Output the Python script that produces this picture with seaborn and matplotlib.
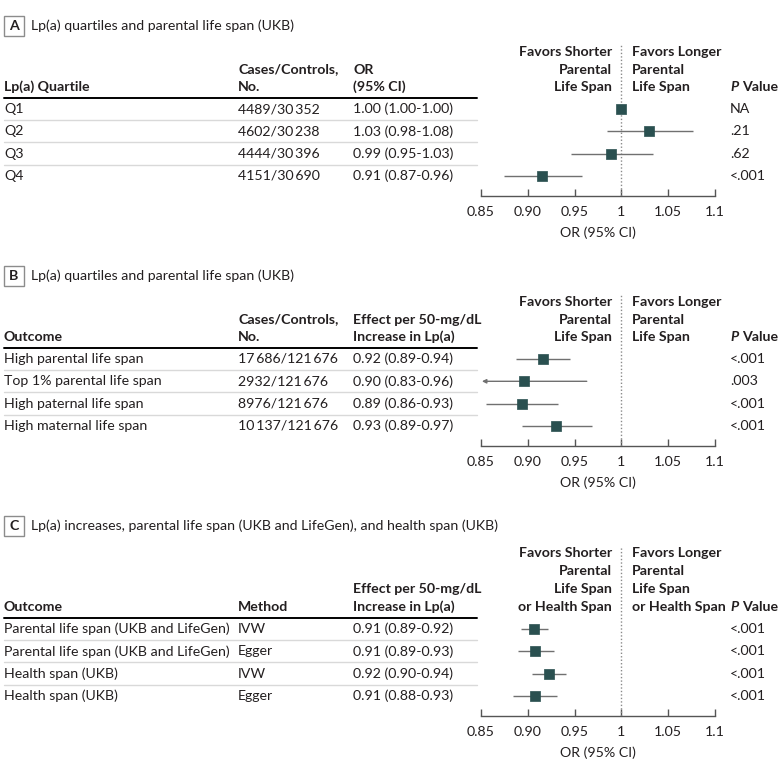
import numpy as np
import pandas as pd
import matplotlib.pyplot as plt
import seaborn as sns
from matplotlib.patches import Rectangle
from matplotlib.lines import Line2D

# ---- data -------------------------------------------------------------
a_labels = ["Q1", "Q2", "Q3", "Q4"]
a_cases = ["4489/30\u2009352", "4602/30\u2009238", "4444/30\u2009396", "4151/30\u2009690"]
a_text = ["1.00 (1.00-1.00)", "1.03 (0.98-1.08)", "0.99 (0.95-1.03)", "0.91 (0.87-0.96)"]
a_or = [1.000, 1.029, 0.989, 0.915]
a_lo = [1.000, 0.985, 0.946, 0.875]
a_hi = [1.000, 1.076, 1.034, 0.958]
a_p = ["NA", ".21", ".62", "<.001"]

b_labels = ["High parental life span", "Top 1% parental life span",
            "High paternal life span", "High maternal life span"]
b_cases = ["17\u2009686/121\u2009676", "2932/121\u2009676", "8976/121\u2009676", "10\u2009137/121\u2009676"]
b_text = ["0.92 (0.89-0.94)", "0.90 (0.83-0.96)", "0.89 (0.86-0.93)", "0.93 (0.89-0.97)"]
b_or = [0.916, 0.896, 0.894, 0.930]
b_lo = [0.887, 0.83, 0.855, 0.894]
b_hi = [0.945, 0.963, 0.932, 0.969]
b_p = ["<.001", ".003", "<.001", "<.001"]

c_labels = ["Parental life span (UKB and LifeGen)", "Parental life span (UKB and LifeGen)",
            "Health span (UKB)", "Health span (UKB)"]
c_method = ["IVW", "Egger", "IVW", "Egger"]
c_text = ["0.91 (0.89-0.92)", "0.91 (0.89-0.93)", "0.92 (0.90-0.94)", "0.91 (0.88-0.93)"]
c_or = [0.907, 0.908, 0.923, 0.908]
c_lo = [0.893, 0.889, 0.905, 0.884]
c_hi = [0.922, 0.928, 0.941, 0.931]
c_p = ["<.001", "<.001", "<.001", "<.001"]

xticks = [0.85, 0.90, 0.95, 1.0, 1.05, 1.1]
xticklabels = ["0.85", "0.90", "0.95", "1", "1.05", "1.1"]

# ---- style ------------------------------------------------------------
sns.set_theme(style="white")
FONT = ["Lato", "DejaVu Sans"]
plt.rcParams["font.family"] = FONT
FS = 10.2
DARK = "#231f20"
MARK = "#2a5050"
CI = "#707070"

W, H = 780, 769
fig = plt.figure(figsize=(W / 100, H / 100), dpi=100)


def txt(x, y, s, **kw):
    kw.setdefault("fontsize", FS)
    kw.setdefault("va", "center")
    kw.setdefault("color", DARK)
    fig.text(x / W, 1 - y / H, s, **kw)


def hline(y, x0, x1, color, lw):
    fig.add_artist(Line2D([x0 / W, x1 / W], [1 - y / H, 1 - y / H],
                          color=color, lw=lw, transform=fig.transFigure))


def panel(letter, title, top, col_heads, favors, rows, cols, ors, los, his, pvals):
    # panel title with boxed letter
    fig.add_artist(Rectangle((4 / W, 1 - (top + 36) / H), 20 / W, 20 / H,
                             transform=fig.transFigure, fill=False,
                             edgecolor="#8c8c8c", lw=1))
    txt(14, top + 26, letter, ha="center", fontweight="bold")
    txt(31, top + 26, title)

    n_head = len(favors)
    head_y = [top + 87 - 17.5 * (n_head - 1 - i) for i in range(n_head)]
    if n_head == 4:
        head_y = [top + 53 + 18 * i for i in range(4)]
    line_y = head_y[-1] + 11
    row_y = [line_y + 11 + 22.3 * i for i in range(len(rows))]
    axis_y = row_y[-1] + 20

    # column headers
    for (x, lines) in col_heads:
        for j, s in enumerate(lines):
            txt(x, head_y[n_head - len(lines) + j], s, fontweight="bold")
    for j, (l, r) in enumerate(favors):
        txt(612, head_y[j], l, ha="right", fontweight="bold")
        txt(632, head_y[j], r, ha="left", fontweight="bold")
    txt(730, head_y[-1], "P", fontweight="bold", style="italic")
    txt(742, head_y[-1], "Value", fontweight="bold")

    hline(line_y, 4, 477, "black", 1.4)
    for i in range(len(rows) - 1):
        hline((row_y[i] + row_y[i + 1]) / 2, 4, 477, "#d9d9d9", 1)

    # table body
    for i in range(len(rows)):
        for (x, vals) in cols:
            txt(x, row_y[i], vals[i])
        txt(730, row_y[i], pvals[i])

    # forest axes
    ax = fig.add_axes([481 / W, 1 - axis_y / H, 234 / W, (axis_y - line_y) / H])
    sp = 22.3
    ax.set_ylim((axis_y - row_y[0]) / sp, (line_y - row_y[0]) / sp)
    ax.set_xlim(0.85, 1.1)

    df = pd.DataFrame({"row": np.arange(len(rows)), "or": ors, "lo": los, "hi": his})
    for r in df.itertuples():
        if r.lo < 0.85:
            ax.annotate("", xy=(0.851, r.row), xytext=(r.hi, r.row),
                        arrowprops=dict(arrowstyle="-|>", color=CI, lw=1,
                                        mutation_scale=6, shrinkA=0, shrinkB=0))
        elif r.hi > r.lo:
            ax.hlines(r.row, r.lo, r.hi, color=CI, lw=1)
    sns.scatterplot(data=df, x="or", y="row", marker="s", s=44, color=MARK,
                    edgecolor=MARK, linewidth=0.5, ax=ax, zorder=3, legend=False)

    dot_top = head_y[0] - 7
    ax.axvline(1.0, ymin=0, ymax=(axis_y - dot_top) / (axis_y - line_y),
               clip_on=False, ls=(0, (1, 1.5)), color="#8a8a8a", lw=1, zorder=1)

    sns.despine(ax=ax, left=True, top=True, right=True)
    ax.spines["bottom"].set_color("#555555")
    ax.spines["bottom"].set_linewidth(1)
    ax.set_yticks([])
    ax.set_xticks(xticks)
    ax.set_xticklabels(xticklabels, fontsize=FS, color=DARK)
    ax.tick_params(axis="x", direction="in", length=5, width=1, color="#555555",
                   pad=7.5, bottom=True)
    ax.set_xlabel("OR (95% CI)", fontsize=FS, color=DARK, labelpad=5.5)
    ax.set_ylabel("")
    ax.patch.set_alpha(0)
    ax.grid(False)


panel("A", "Lp(a) quartiles and parental life span (UKB)", 0,
      [(4, ["Lp(a) Quartile"]), (238, ["Cases/Controls,", "No."]), (353, ["OR", "(95% CI)"])],
      [("Favors Shorter", "Favors Longer"), ("Parental", "Parental"), ("Life Span", "Life Span")],
      a_labels, [(4, a_labels), (238, a_cases), (353, a_text)], a_or, a_lo, a_hi, a_p)

panel("B", "Lp(a) quartiles and parental life span (UKB)", 250,
      [(4, ["Outcome"]), (238, ["Cases/Controls,", "No."]),
       (353, ["Effect per 50-mg/dL", "Increase in Lp(a)"])],
      [("Favors Shorter", "Favors Longer"), ("Parental", "Parental"), ("Life Span", "Life Span")],
      b_labels, [(4, b_labels), (238, b_cases), (353, b_text)], b_or, b_lo, b_hi, b_p)

panel("C", "Lp(a) increases, parental life span (UKB and LifeGen), and health span (UKB)", 500,
      [(4, ["Outcome"]), (238, ["Method"]),
       (353, ["Effect per 50-mg/dL", "Increase in Lp(a)"])],
      [("Favors Shorter", "Favors Longer"), ("Parental", "Parental"), ("Life Span", "Life Span"),
       ("or Health Span", "or Health Span")],
      c_labels, [(4, c_labels), (238, c_method), (353, c_text)], c_or, c_lo, c_hi, c_p)

fig.savefig("out.png", dpi=100, facecolor="white")
